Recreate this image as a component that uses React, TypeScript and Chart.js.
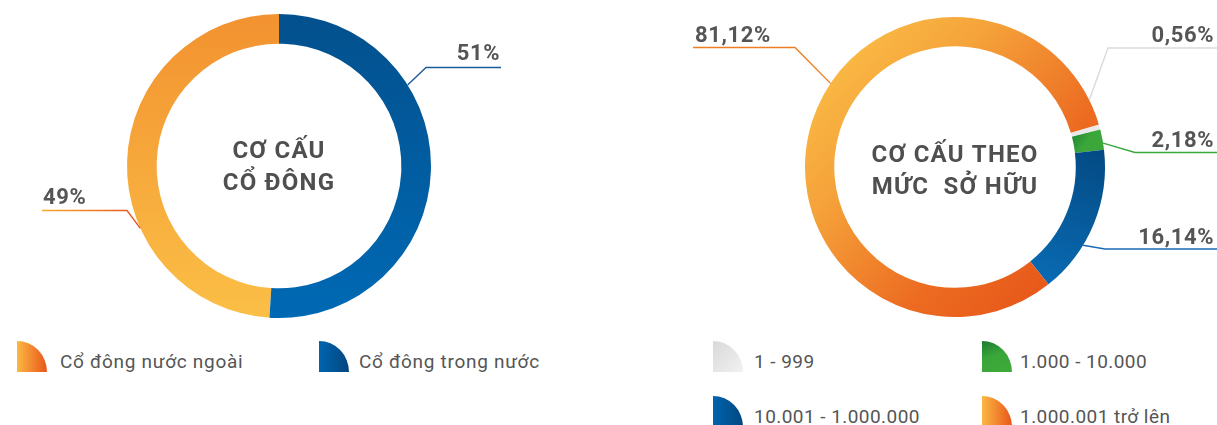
import React, { useEffect, useRef } from "react";
import { Chart, registerables } from "chart.js";

Chart.register(...registerables);

// ---------------- data ----------------
const ownerCategories = ["Cổ đông nước ngoài", "Cổ đông trong nước"];
const ownerValues = [49, 51];
const ownerTitle = ["CƠ CẤU", "CỔ ĐÔNG"];

const holdingCategories = ["1 - 999", "1.000 - 10.000", "10.001 - 1.000.000", "1.000.001 trở lên"];
const holdingValues = [0.56, 2.18, 16.14, 81.12];
const holdingTitle = ["CƠ CẤU THEO", "MỨC  SỞ HỮU"];

// ---------------- styles ----------------
const TEXT = "#555555";
const TITLE = "#4F4F4F";
const FONT = "Roboto, 'Noto Sans', sans-serif";

type Area = { left: number; top: number; right: number; bottom: number };
type GradFn = (ctx: CanvasRenderingContext2D, a: Area) => CanvasGradient | string;

function lin(ctx: CanvasRenderingContext2D, x0: number, y0: number, x1: number, y1: number, stops: [number, string][]) {
  const g = ctx.createLinearGradient(x0, y0, x1, y1);
  stops.forEach(([o, c]) => g.addColorStop(o, c));
  return g;
}

const ownerFills: GradFn[] = [
  (ctx, a) => lin(ctx, 0, a.top, 0, a.bottom, [[0, "#F29230"], [1, "#FBBF46"]]),
  (ctx, a) => lin(ctx, 0, a.top, 0, a.bottom, [[0, "#03508D"], [1, "#0069B4"]]),
];
const ownerFallback = ["#F6A83B", "#035C9F"];

const holdingFills: GradFn[] = [
  () => "#E9E9E9",
  (ctx, a) => lin(ctx, a.left + 270, a.top + 110, a.left + 300, a.top + 130, [[0, "#1E8534"], [0.5, "#3BA63A"], [1, "#3BA63A"]]),
  (ctx, a) => lin(ctx, a.left + 295, a.top + 133, a.left + 235, a.top + 273, [[0, "#034A84"], [1, "#0A6DB6"]]),
  (ctx, a) =>
    lin(ctx, a.left + 15, a.top + 23, a.left + 295, a.top + 283, [
      [0, "#FBC047"],
      [0.3, "#F5A23A"],
      [0.65, "#EC6B21"],
      [1, "#E54E16"],
    ]),
];
const holdingFallback = ["#E9E9E9", "#3BA63A", "#0560A5", "#EF7D26"];

type Callout = {
  shift: number; // degrees from segment middle where the leader starts
  elbowX: number;
  elbowY: number;
  endX: number;
  textX: number;
  baseline: number;
  align: CanvasTextAlign;
  line: string | [string, string];
};

const ownerCallouts: Callout[] = [
  { shift: -26, elbowX: 127, elbowY: 210.5, endX: 42, textX: 43, baseline: 204, align: "left", line: ["#F9A72B", "#E8501A"] },
  { shift: -34, elbowX: 426, elbowY: 67.5, endX: 501, textX: 500, baseline: 60, align: "right", line: "#1A5C9C" },
];

const holdingCallouts: Callout[] = [
  { shift: -11, elbowX: 508, elbowY: 48, endX: 617, textX: 614, baseline: 42, align: "right", line: "#DADADA" },
  { shift: 1.4, elbowX: 535, elbowY: 152.5, endX: 617, textX: 614, baseline: 147, align: "right", line: "#3AA83A" },
  { shift: 9, elbowX: 505, elbowY: 249, endX: 617, textX: 614, baseline: 244, align: "right", line: "#1B6AB5" },
  { shift: 16.4, elbowX: 195, elbowY: 47.5, endX: 93, textX: 95, baseline: 42, align: "left", line: "#EE7E22" },
];

// ---------------- plugins ----------------
const calloutPlugin = {
  id: "callouts",
  afterDraw(chart: any, _args: any, opts: any) {
    const { ctx } = chart;
    const meta = chart.getDatasetMeta(0);
    const values: number[] = chart.data.datasets[0].data;
    const items: Callout[] = opts.items || [];
    items.forEach((it, i) => {
      const arc = meta.data[i];
      if (!arc) return;
      const mid = (arc.startAngle + arc.endAngle) / 2 + (it.shift * Math.PI) / 180;
      const ax = arc.x + Math.cos(mid) * arc.outerRadius;
      const ay = arc.y + Math.sin(mid) * arc.outerRadius;
      ctx.save();
      ctx.lineWidth = 1.4;
      if (Array.isArray(it.line)) {
        ctx.strokeStyle = lin(ctx, it.endX, 0, ax, 0, [[0, it.line[0]], [1, it.line[1]]]);
      } else {
        ctx.strokeStyle = it.line;
      }
      ctx.beginPath();
      ctx.moveTo(ax, ay);
      ctx.lineTo(it.elbowX, it.elbowY);
      ctx.lineTo(it.endX, it.elbowY);
      ctx.stroke();
      ctx.fillStyle = TEXT;
      ctx.font = `bold 22px ${FONT}`;
      (ctx as any).letterSpacing = "0.6px";
      ctx.textAlign = it.align;
      ctx.textBaseline = "alphabetic";
      const txt = opts.format(values[i]) + "%";
      ctx.fillText(txt, it.textX, it.baseline);
      ctx.restore();
    });
  },
};

const titlePlugin = {
  id: "centerTitle",
  afterDraw(chart: any, _args: any, opts: any) {
    const { ctx } = chart;
    const arc = chart.getDatasetMeta(0).data[0];
    if (!arc) return;
    ctx.save();
    ctx.fillStyle = TITLE;
    ctx.font = `bold 24px ${FONT}`;
    (ctx as any).letterSpacing = "1.2px";
    ctx.textAlign = "center";
    ctx.textBaseline = "alphabetic";
    (opts.lines as string[]).forEach((line, i) => {
      ctx.fillText(line, arc.x, arc.y + opts.baselines[i]);
    });
    ctx.restore();
  },
};

// ---------------- components ----------------
type DoughnutProps = {
  left: number;
  width: number;
  padding: { left: number; right: number; top: number; bottom: number };
  labels: string[];
  values: number[];
  rotation: number;
  fills: GradFn[];
  fallback: string[];
  callouts: Callout[];
  title: string[];
  titleBaselines: number[];
  format: (v: number) => string;
};

function Doughnut(p: DoughnutProps) {
  const ref = useRef<HTMLCanvasElement>(null);
  useEffect(() => {
    const chart = new Chart(ref.current as HTMLCanvasElement, {
      type: "doughnut",
      data: {
        labels: p.labels,
        datasets: [
          {
            data: p.values,
            backgroundColor: (c: any) => {
              const a = c.chart.chartArea;
              if (!a) return p.fallback[c.dataIndex];
              return p.fills[c.dataIndex](c.chart.ctx, a);
            },
            borderWidth: 0,
            hoverOffset: 0,
          },
        ],
      },
      options: {
        responsive: false,
        animation: false,
        events: [],
        cutout: "80.5%",
        rotation: p.rotation,
        layout: { padding: p.padding },
        plugins: {
          legend: { display: false },
          tooltip: { enabled: false },
          callouts: { items: p.callouts, format: p.format },
          centerTitle: { lines: p.title, baselines: p.titleBaselines },
        } as any,
      },
      plugins: [calloutPlugin as any, titlePlugin as any],
    });
    return () => chart.destroy();
  }, []);
  return (
    <canvas
      ref={ref}
      width={p.width}
      height={331}
      style={{ position: "absolute", left: p.left, top: 0, width: p.width, height: 331 }}
    />
  );
}

type LegendItem = { label: string; bg: string; x: number; y: number; gap: number };

function Legend({
  items,
  fontSize,
  spacing,
  wordSpacing,
}: {
  items: LegendItem[];
  fontSize: number;
  spacing: number;
  wordSpacing: number;
}) {
  return (
    <>
      {items.map((it, i) => (
        <div key={i} style={{ position: "absolute", left: it.x, top: it.y, height: 31, display: "flex", alignItems: "flex-start" }}>
          <div style={{ width: 30, height: 31, background: it.bg, borderTopRightRadius: "100% 100%", flex: "none" }} />
          <span
            style={{
              marginLeft: it.gap,
              fontFamily: FONT,
              fontSize,
              letterSpacing: spacing,
              wordSpacing,
              color: TEXT,
              whiteSpace: "nowrap",
              lineHeight: "31px",
              position: "relative",
              top: 5,
            }}
          >
            {it.label}
          </span>
        </div>
      ))}
    </>
  );
}

const ORANGE_ICON = "linear-gradient(to right, #FBB843, #E9561A)";
const BLUE_ICON = "linear-gradient(to right, #0064AE, #03467F)";
const GRAY_ICON = "linear-gradient(135deg, #D9D9D9, #F1F1F1)";
const GREEN_ICON = "linear-gradient(160deg, #1B7A30 0%, #3AA63A 45%, #3DAA3A 100%)";

const ownerRotation = (ownerValues[1] / ownerValues.reduce((s, v) => s + v, 0)) * 360;

export default function App() {
  const ownerLegend: LegendItem[] = [
    { label: ownerCategories[0], bg: ORANGE_ICON, x: 17, y: 341, gap: 13 },
    { label: ownerCategories[1], bg: BLUE_ICON, x: 319, y: 341, gap: 10 },
  ];
  const holdingLegend: LegendItem[] = [
    { label: holdingCategories[0], bg: GRAY_ICON, x: 713, y: 341, gap: 11 },
    { label: holdingCategories[1], bg: GREEN_ICON, x: 982, y: 341, gap: 8 },
    { label: holdingCategories[2], bg: BLUE_ICON, x: 713, y: 396, gap: 11 },
    { label: holdingCategories[3], bg: ORANGE_ICON, x: 982, y: 396, gap: 8 },
  ];
  return (
    <div style={{ position: "absolute", left: 0, top: 0, width: 1217, height: 425, background: "#fff", overflow: "hidden" }}>
      <Doughnut
        left={0}
        width={600}
        padding={{ left: 127, right: 169, top: 14, bottom: 13 }}
        labels={ownerCategories}
        values={ownerValues}
        rotation={ownerRotation}
        fills={ownerFills}
        fallback={ownerFallback}
        callouts={ownerCallouts}
        title={ownerTitle}
        titleBaselines={[-8.5, 24]}
        format={(v) => String(Math.round(v))}
      />
      <Doughnut
        left={600}
        width={617}
        padding={{ left: 205, right: 112, top: 17, bottom: 14 }}
        labels={holdingCategories}
        values={holdingValues}
        rotation={73.5}
        fills={holdingFills}
        fallback={holdingFallback}
        callouts={holdingCallouts}
        title={holdingTitle}
        titleBaselines={[-5.5, 26.5]}
        format={(v) => v.toFixed(2).replace(".", ",")}
      />
      <Legend items={ownerLegend} fontSize={19} spacing={0.7} wordSpacing={0} />
      <Legend items={holdingLegend} fontSize={19} spacing={0.45} wordSpacing={0} />
    </div>
  );
}
